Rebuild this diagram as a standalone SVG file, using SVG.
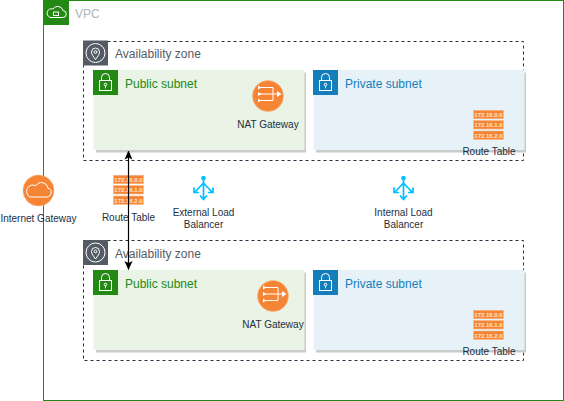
<svg xmlns="http://www.w3.org/2000/svg" width="564" height="401" viewBox="0 0 564 401">
<style>
text{font-family:"Liberation Sans",Arial,sans-serif;}
.lbl{font-size:10px;fill:#232F3E;text-anchor:middle;}
.ttl{font-size:12px;}
.az{fill:none;stroke:#232F3E;stroke-dasharray:3 3;stroke-width:1;}
.ic{fill:none;stroke:#fff;stroke-width:1;}
.icf{fill:#fff;stroke:none;}
.rt{fill:#F58534;stroke:#f9b98a;stroke-width:.5;}
.rtt{font-size:6px;font-weight:bold;fill:#fde3cf;text-anchor:middle;}
.shadow{fill:#c9cbc9;}
.elb{fill:none;stroke:#00BFFF;stroke-width:1.700;}
.con{fill:none;stroke:#000;stroke-width:1.200;}
</style>
<defs>
<g id="lock"><rect width="25" height="25" fill="#248814"/><rect x="6.500" y="10.500" width="12" height="10" class="ic"/><path d="M8.500 10.500V7.500a4 4 0 0 1 8 0V10.500" class="ic"/><circle cx="12.500" cy="14.500" r="1.300" class="ic"/><path d="M12.500 15.800v2.500" class="ic"/></g>
<g id="lockb"><rect width="25" height="25" fill="#147EBA"/><rect x="6.500" y="10.500" width="12" height="10" class="ic"/><path d="M8.500 10.500V7.500a4 4 0 0 1 8 0V10.500" class="ic"/><circle cx="12.500" cy="14.500" r="1.300" class="ic"/><path d="M12.500 15.800v2.500" class="ic"/></g>
<g id="pin"><rect width="25" height="25" fill="#545B64"/><circle cx="12.500" cy="12.500" r="9.500" class="ic"/><path d="M12.500 19c-2-3-4-5-4-7.500a4 4 0 0 1 8 0c0 2.500-2 4.500-4 7.500z" class="ic"/><circle cx="12.500" cy="11.500" r="1.400" class="ic"/></g>
<g id="nat"><circle cx="15" cy="15" r="15.500" fill="#F58534" stroke="#f9b98a" stroke-width=".6"/><path d="M5 6.500H20V19.500H5M5 13H27" class="ic" stroke-width="1.200"/><path d="M5 4.500L8.500 6.500 5 8.500zM5 11L8.500 13 5 15zM5 17.500L8.500 19.500 5 21.500zM24 10L28.500 13 24 16z" class="icf"/></g>
<g id="rt"><rect width="30" height="8.500" y="0.250" class="rt"/><rect width="30" height="8.500" y="10.500" class="rt"/><rect width="30" height="8.500" y="21" class="rt"/><text class="rtt" x="15" y="6.700">172.16.0.0</text><text class="rtt" x="15" y="17">172.16.1.0</text><text class="rtt" x="15" y="27.500">172.16.2.0</text></g>
<g id="elb"><circle cx="0" cy="-8" r="2.300" fill="#00BFFF"/><path d="M0-8V13M0-3L-8.500 6M0-3L8.500 6M-3.500 9.500L0 13.500 3.500 9.500M-9.500 1.500V6.500H-4.500M9.500 1.500V6.500H4.500" class="elb"/></g>
<marker id="arr" viewBox="0 0 9 10" refX="8.500" refY="5" markerWidth="9" markerHeight="10" orient="auto-start-reverse" markerUnits="userSpaceOnUse"><path d="M0 1L9 5 0 9 2 5z" fill="#000"/></marker>
</defs>

<g id="vpc"><rect x="43.500" y="0.500" width="520" height="400" fill="#fff" stroke="#248814"/><rect x="44" y="1" width="25" height="24" fill="#248814"/><path d="M50 17.500h12.500a3.500 3.500 0 0 0 .5-7 5.500 5.500 0 0 0-10-1.500 4 4 0 0 0-3 8.300z" class="ic"/><rect x="53.500" y="12" width="5" height="3.500" class="ic"/><text class="ttl" x="75" y="18" fill="#AAB7B8">VPC</text></g>

<g id="az1"><rect x="83.500" y="41.500" width="440" height="119" class="az"/><use href="#pin" x="83" y="40.500"/><text class="ttl" x="115" y="58" fill="#545B64">Availability zone</text></g>
<g id="az2"><rect x="83.500" y="240.500" width="440" height="120" class="az"/><use href="#pin" x="83" y="240"/><text class="ttl" x="115" y="258" fill="#545B64">Availability zone</text></g>

<g id="public1"><rect x="96" y="72.500" width="210" height="80" class="shadow"/><rect x="93.500" y="70" width="211" height="80" fill="#E9F3E6"/><use href="#lock" x="93" y="70"/><text class="ttl" x="125" y="88" fill="#248814">Public subnet</text></g>
<g id="private1"><rect x="316" y="72.500" width="210" height="80" class="shadow"/><rect x="313.500" y="70" width="211" height="80" fill="#E6F2F8"/><use href="#lockb" x="313" y="70"/><text class="ttl" x="345" y="88" fill="#147EBA">Private subnet</text></g>
<g id="public2"><rect x="96" y="272.500" width="210" height="80" class="shadow"/><rect x="93.500" y="270" width="211" height="80" fill="#E9F3E6"/><use href="#lock" x="93" y="270"/><text class="ttl" x="125" y="288" fill="#248814">Public subnet</text></g>
<g id="private2"><rect x="316" y="272.500" width="210" height="80" class="shadow"/><rect x="313.500" y="270" width="211" height="80" fill="#E6F2F8"/><use href="#lockb" x="313" y="270"/><text class="ttl" x="345" y="288" fill="#147EBA">Private subnet</text></g>

<g id="nat1"><use href="#nat" x="253" y="81"/><text class="lbl" x="268" y="128">NAT Gateway</text></g>
<g id="nat2"><use href="#nat" x="258" y="281"/><text class="lbl" x="273" y="328">NAT Gateway</text></g>

<g id="igw"><circle cx="38.500" cy="190.500" r="15.500" fill="#F58534" stroke="#f9b98a" stroke-width=".6"/><path d="M30 197h17a4.500 4.500 0 0 0 1-8.800 6.500 6.500 0 0 0-12-2.500 5 5 0 0 0-6 11.300z" class="ic"/><text class="lbl" x="38.500" y="222">Internet Gateway</text></g>

<g id="rt1"><use href="#rt" x="473.500" y="110"/><text class="lbl" x="489" y="155">Route Table</text></g>
<g id="rt2"><use href="#rt" x="473.500" y="310"/><text class="lbl" x="489" y="355">Route Table</text></g>
<g id="rt3"><use href="#rt" x="113.500" y="175"/><text class="lbl" x="128.500" y="221">Route Table</text></g>

<g id="elb-ext"><use href="#elb" x="203.500" y="186"/><text class="lbl" x="203.500" y="216">External Load</text><text class="lbl" x="203.500" y="228">Balancer</text></g>
<g id="elb-int"><use href="#elb" x="403.500" y="186"/><text class="lbl" x="403.500" y="216">Internal Load</text><text class="lbl" x="403.500" y="228">Balancer</text></g>

<g id="connectors"><path d="M128.500 269.500V151" class="con" marker-start="url(#arr)" marker-end="url(#arr)"/></g>
</svg>
